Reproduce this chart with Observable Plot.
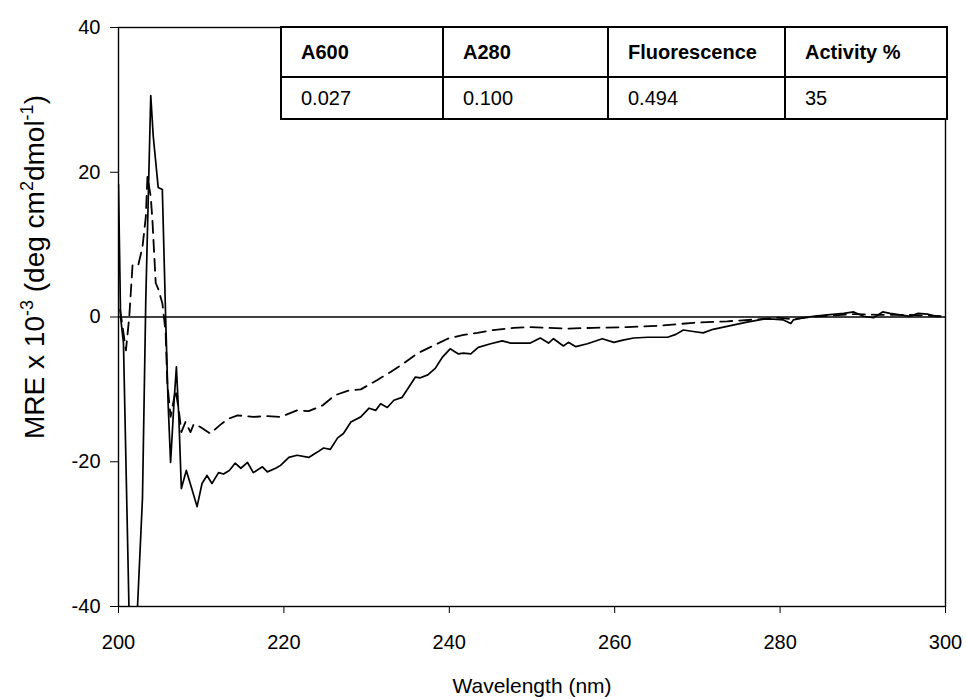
<!DOCTYPE html>
<html><head><meta charset="utf-8">
<script src="https://cdn.jsdelivr.net/npm/d3@7"></script>
<script src="https://cdn.jsdelivr.net/npm/@observablehq/plot@0.6"></script>
<style>
body{margin:0;background:#fff;font-family:"Liberation Sans",Arial,sans-serif;}
#wrap{position:relative;width:966px;height:700px;}
#tbl{position:absolute;left:280px;top:26px;width:666px;border-collapse:collapse;table-layout:fixed;background:#fff;border:2.5px solid #000;}
#tbl td{border:2px solid #000;padding:0 0 0 19px;font-size:20px;color:#000;white-space:nowrap;}
#tbl tr.h td{font-weight:bold;height:48px;}
#tbl tr.v td{height:40px;}
</style></head><body><div id="wrap"></div>
<script>
// solid trace
const solidWavelength = [200.0,200.25,200.6,201.3,201.8,202.3,202.9,203.3,203.9,204.2,204.8,205.3,205.7,206.0,206.3,206.7,207.0,207.3,207.6,208.2,208.8,209.5,210.1,210.7,211.3,212.1,212.7,213.4,214.1,214.8,215.6,216.3,217.4,218.0,219.0,219.6,220.6,221.6,223.0,224.0,224.8,225.6,226.5,227.2,228.1,229.3,230.3,231.1,231.7,232.5,233.3,234.3,235.1,235.9,236.5,237.4,238.3,239.2,240.1,241.1,241.7,242.6,243.5,245.0,246.4,247.4,248.5,249.8,251.0,252.0,252.6,253.8,254.4,255.3,256.7,258.5,259.9,261.0,262.3,264.0,266.4,267.4,268.3,269.5,270.7,271.9,274.0,276.0,278.0,279.2,280.4,281.3,281.6,282.8,284.0,285.7,287.7,288.9,290.1,291.3,292.4,293.3,294.5,295.7,296.7,297.8,298.9,299.3];
const solidMre = [18.3,0,-3.6,-42,-46,-40,-25,2.4,30.6,25,17.9,17.6,0,-12,-20.1,-12,-6.9,-14,-23.7,-21.2,-23.5,-26.2,-23,-21.9,-23.0,-21.5,-21.7,-21.2,-20.2,-20.9,-20.1,-21.5,-20.7,-21.4,-20.9,-20.5,-19.4,-19.1,-19.4,-18.7,-18.1,-18.3,-16.7,-16.1,-14.5,-13.8,-12.6,-12.9,-12.0,-12.5,-11.5,-11.1,-9.7,-8.3,-8.4,-8.0,-7.1,-5.5,-4.4,-5.1,-5.0,-5.1,-4.2,-3.7,-3.3,-3.6,-3.6,-3.6,-2.9,-3.6,-3.0,-4.0,-3.5,-4.1,-3.7,-3.0,-3.5,-3.2,-2.9,-2.8,-2.8,-2.4,-1.8,-2.0,-2.2,-1.7,-1.2,-0.7,-0.3,-0.3,-0.4,-0.9,-0.4,-0.1,0.1,0.3,0.5,0.7,0.1,-0.1,0.7,0.5,0.3,0.1,0.5,0.4,0.1,0.1];
// dashed trace
const dashedWavelength = [200.2,200.9,201.3,201.7,202.4,202.9,203.3,203.5,203.9,204.1,204.5,204.8,205.3,205.4,205.7,205.9,206.3,206.9,207.3,207.6,208.1,208.7,209.1,209.9,211.1,212.3,213.2,214.4,216.3,218.0,219.6,221.6,223.0,224.7,226.2,227.7,229.3,231.3,232.9,234.5,236.2,238.0,239.8,241.6,243.4,245.3,247.8,249.8,251.9,254.3,257.4,261.5,265.5,269.5,273.6,277.6,279.7,281.6,283.7,286.0,289.0,292.0,295.0,298.0,299.5];
const dashedMre = [1.0,-4.6,0,7.2,7.2,9.7,13.8,19.4,16.6,13.4,4.7,3.9,1.9,1.0,-2.2,-9.1,-13.8,-10.1,-12.9,-15.9,-14.5,-15.9,-14.8,-15.2,-16.1,-14.9,-14.1,-13.6,-13.8,-13.7,-13.8,-12.9,-13.0,-12.2,-10.8,-10.2,-10.0,-8.7,-7.6,-6.4,-5.0,-4.0,-3.0,-2.5,-2.2,-1.8,-1.5,-1.4,-1.5,-1.6,-1.5,-1.4,-1.2,-0.8,-0.6,-0.3,-0.1,-0.3,0.0,0.2,0.4,0.3,0.3,0.2,0.1];

const xTicks = [200,220,240,260,280,300];
const yTicks = [-40,-20,0,20,40];
const xLabel = "Wavelength (nm)";
const yLabelParts = [["MRE x 10",false],["-3",true],[" (deg cm",false],["2",true],["dmol",false],["-1",true],[")",false]];
const tableHeaders = ["A600","A280","Fluorescence","Activity %"];
const tableValues = ["0.027","0.100","0.494","35"];

const solid = solidWavelength.map((x,i)=>({x, y: solidMre[i]}));
const dashed = dashedWavelength.map((x,i)=>({x, y: dashedMre[i]}));
const yLabelPlain = yLabelParts.map(p=>p[0]).join("");

const chart = Plot.plot({
  width: 966, height: 700,
  marginLeft: 118, marginRight: 21, marginTop: 27, marginBottom: 94,
  style: {fontFamily: "'Liberation Sans', Arial, sans-serif", fontSize: "20px", color: "#000", background: "#fff"},
  x: {domain: [200, 300]},
  y: {domain: [-40, 40]},
  marks: [
    Plot.ruleY([0], {stroke: "#000", strokeWidth: 1.3}),
    Plot.line(dashed, {x: "x", y: "y", stroke: "#000", strokeWidth: 1.8, strokeDasharray: "12,7", clip: true}),
    Plot.line(solid, {x: "x", y: "y", stroke: "#000", strokeWidth: 1.7, clip: true}),
    Plot.frame({stroke: "#000", strokeWidth: 1.4}),
    Plot.axisX(xTicks, {tickSize: 7, tickPadding: 21, label: null, tickFormat: d => String(d), fontSize: 20}),
    Plot.axisY(yTicks, {tickSize: 8, tickPadding: 10, label: null, tickFormat: d => String(d), fontSize: 20}),
    Plot.text([xLabel], {text: d => d, frameAnchor: "bottom", dy: 86, fontSize: 21}),
    Plot.text([yLabelPlain], {text: d => d, frameAnchor: "left", textAnchor: "middle", rotate: -90, dx: -83, dy: -50, fontSize: 28})
  ]
});

// rebuild y label with superscripts
for (const t of chart.querySelectorAll("text")) {
  if (t.textContent === yLabelPlain) {
    while (t.firstChild) t.removeChild(t.firstChild);
    let prevSup = false;
    for (const [s, sup] of yLabelParts) {
      const ts = document.createElementNS("http://www.w3.org/2000/svg", "tspan");
      ts.textContent = s;
      if (sup) { ts.setAttribute("font-size", "18"); ts.setAttribute("dy", "-11"); }
      else { ts.setAttribute("font-size", "28"); if (prevSup) ts.setAttribute("dy", "11"); }
      prevSup = sup;
      t.appendChild(ts);
    }
  }
}

const wrap = document.getElementById("wrap");
wrap.appendChild(chart);

const table = document.createElement("table");
table.id = "tbl";
const colWidths = [162,165,177,162];
const cg = document.createElement("colgroup");
for (const w of colWidths) { const c = document.createElement("col"); c.style.width = w + "px"; cg.appendChild(c); }
table.appendChild(cg);
for (const [cls, row] of [["h", tableHeaders], ["v", tableValues]]) {
  const tr = document.createElement("tr"); tr.className = cls;
  for (const v of row) { const td = document.createElement("td"); td.textContent = v; tr.appendChild(td); }
  table.appendChild(tr);
}
wrap.appendChild(table);
</script>
</body></html>
